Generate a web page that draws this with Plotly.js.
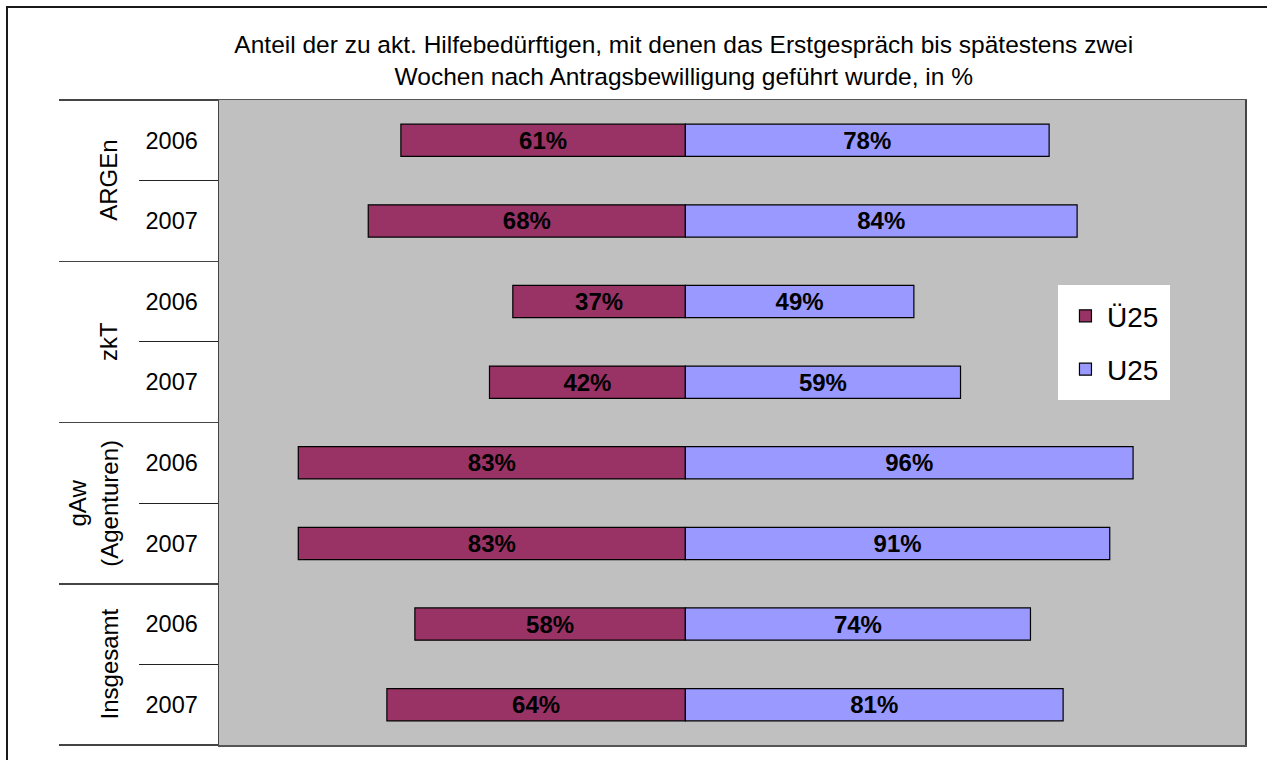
<!DOCTYPE html>
<html>
<head>
<meta charset="utf-8">
<script src="https://cdn.plot.ly/plotly-3.0.1.min.js"></script>
<style>
  html, body { margin: 0; padding: 0; background: #fff; overflow: hidden; }
  #chart { width: 1267px; height: 760px; position: absolute; left: 0; top: 0; }
  #frame { position: absolute; left: 6px; top: 6px; width: 1400px; height: 900px;
           border: 2px solid #1a1a1a; pointer-events: none; }
</style>
</head>
<body>
<div id="chart"></div>
<div id="frame"></div>
<script>
// ---- data ----
const groups = ["ARGEn", "zkT", "gAw<br>(Agenturen)", "Insgesamt"];
const years = ["2006", "2007", "2006", "2007", "2006", "2007", "2006", "2007"];
const ue25 = [61, 68, 37, 42, 83, 83, 58, 64];   // Ü25 (drawn to the left)
const u25  = [78, 84, 49, 59, 96, 91, 74, 81];   // U25 (drawn to the right)
const seriesNames = ["Ü25", "U25"];
const titleLines = ["Anteil der zu akt. Hilfebedürftigen, mit denen das Erstgespräch bis spätestens zwei",
                    "Wochen nach Antragsbewilligung geführt wurde, in %"];

// ---- derived positions ----
const rows = years.map((_, i) => i);
const perGroup = years.length / groups.length;
const groupCenters = groups.map((_, g) => g * perGroup + (perGroup - 1) / 2);
const groupBounds = [];
for (let g = 0; g <= groups.length; g++) groupBounds.push(g * perGroup - 0.5);
const innerBounds = [];
groups.forEach((_, g) => { for (let k = 1; k < perGroup; k++) innerBounds.push(g * perGroup + k - 0.5); });

const FONT = "Liberation Sans, Arial, sans-serif";
const yRange = [years.length - 0.5, -0.5];

const traces = [
  {
    type: "bar", orientation: "h", name: seriesNames[0], legendgroup: "a",
    y: rows, x: ue25.map(v => -v), width: 0.4,
    text: ue25.map(v => v + "%"), textposition: "inside", insidetextanchor: "middle",
    textangle: 0, constraintext: "none",
    textfont: { family: FONT, size: 24, color: "#000", weight: "bold" },
    marker: { color: "#993366", line: { color: "#000", width: 1.2 } },
    hoverinfo: "skip"
  },
  {
    type: "bar", orientation: "h", name: seriesNames[1], legendgroup: "b",
    y: rows, x: u25, width: 0.4,
    text: u25.map(v => v + "%"), textposition: "inside", insidetextanchor: "middle",
    textangle: 0, constraintext: "none",
    textfont: { family: FONT, size: 24, color: "#000", weight: "bold" },
    marker: { color: "#9999FF", line: { color: "#000", width: 1.2 } },
    hoverinfo: "skip"
  }
];

const annotations = groups.map((g, i) => ({
  text: g, xref: "paper", yref: "y", x: -0.092, y: groupCenters[i],
  xanchor: "right", yanchor: "middle", textangle: -90, showarrow: false,
  font: { family: FONT, size: 24, color: "#000" }
}));

const layout = {
  width: 1267, height: 760,
  margin: { l: 219, r: 22, t: 100, b: 15 },
  paper_bgcolor: "#ffffff", plot_bgcolor: "#c0c0c0",
  barmode: "overlay", bargap: 0,
  showlegend: true,
  font: { family: FONT, color: "#000" },
  title: {
    text: titleLines.join("<br>"),
    font: { family: FONT, size: 24.5, color: "#000" },
    xref: "paper", x: 0.453, xanchor: "center",
    yref: "container", y: 0.93, yanchor: "top"
  },
  xaxis: {
    range: [-100, 120], showticklabels: false, ticks: "", showgrid: false, zeroline: false,
    showline: true, mirror: true, linecolor: "#555", linewidth: 1.5, fixedrange: true
  },
  yaxis: {
    range: yRange, tickmode: "array", tickvals: rows, ticktext: years,
    ticks: "outside", ticklen: 15, tickcolor: "rgba(0,0,0,0)",
    tickfont: { family: FONT, size: 23.5, color: "#000" },
    showgrid: false, zeroline: false,
    showline: true, mirror: true, linecolor: "#444", linewidth: 1.5, fixedrange: true
  },
  yaxis2: {
    overlaying: "y", anchor: "x", side: "left", range: yRange,
    tickmode: "array", tickvals: innerBounds, ticks: "outside", ticklen: 79,
    tickcolor: "#222", tickwidth: 1, showticklabels: false,
    showgrid: false, zeroline: false, showline: false, fixedrange: true
  },
  yaxis3: {
    overlaying: "y", anchor: "x", side: "left", range: yRange,
    tickmode: "array", tickvals: groupBounds, ticks: "outside", ticklen: 159,
    tickcolor: "#444", tickwidth: 1.5, showticklabels: false,
    showgrid: false, zeroline: false, showline: false, fixedrange: true
  },
  legend: {
    x: 0.8177, y: 0.713, xanchor: "left", yanchor: "top",
    bgcolor: "#ffffff", bordercolor: "#ffffff", borderwidth: 6,
    traceorder: "grouped", tracegroupgap: 14, itemwidth: 33,
    font: { family: FONT, size: 28, color: "#000" }
  },
  annotations: annotations
};

// invisible traces so the overlay axes (tick dividers) are drawn
traces.push({ type: "scatter", x: [0], y: [0], yaxis: "y2", mode: "markers",
  marker: { opacity: 0 }, showlegend: false, hoverinfo: "skip" });
traces.push({ type: "scatter", x: [0], y: [0], yaxis: "y3", mode: "markers",
  marker: { opacity: 0 }, showlegend: false, hoverinfo: "skip" });

Plotly.newPlot("chart", traces, layout, { displayModeBar: false, staticPlot: true });
</script>
</body>
</html>
